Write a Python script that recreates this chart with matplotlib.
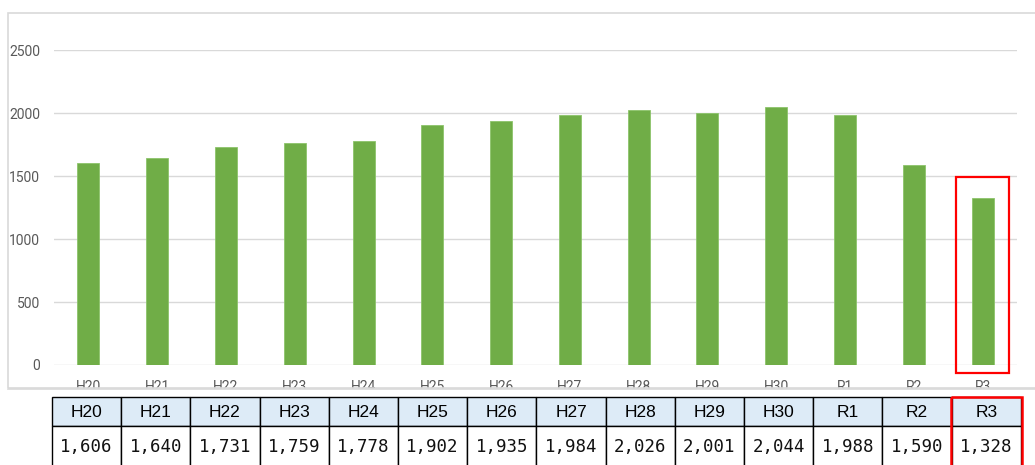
import matplotlib
matplotlib.use("Agg")
import matplotlib.pyplot as plt
from matplotlib.patches import Rectangle

categories = ["H20", "H21", "H22", "H23", "H24", "H25", "H26", "H27", "H28", "H29", "H30", "R1", "R2", "R3"]
values = [1606, 1640, 1731, 1759, 1778, 1902, 1935, 1984, 2026, 2001, 2044, 1988, 1590, 1328]
yticks = [0, 500, 1000, 1500, 2000, 2500]

W, H = 1035, 465
fig = plt.figure(figsize=(W / 100, H / 100), dpi=100)
fig.patch.set_facecolor("white")

# chart frame
fig.patches.append(Rectangle((8 / W, 1 - 388 / H), 1.2, (388 - 13) / H, transform=fig.transFigure,
                             fill=False, edgecolor="#D9D9D9", linewidth=1.2, zorder=0))

ax = fig.add_axes([54 / W, 1 - 365 / H, (1017 - 54) / W, (365 - 50) / H])
x = list(range(len(categories)))
ax.bar(x, values, width=0.32, color="#70AD47", edgecolor="#8CC46A", linewidth=0.6, zorder=3)
ax.set_xlim(-0.5, len(categories) - 0.5)
ax.set_ylim(0, 2500)
ax.set_yticks(yticks)
ax.set_yticklabels([str(v) for v in yticks], fontsize=10, color="#595959", family="Roboto")
ax.set_xticks(x)
ax.set_xticklabels(categories, fontsize=10, color="#595959", family="Roboto")
ax.tick_params(axis="y", length=0, pad=10)
ax.tick_params(axis="x", length=0, pad=10.5)
for s in ax.spines.values():
    s.set_visible(False)
ax.grid(axis="y", color="#D9D9D9", linewidth=1, zorder=0)
ax.set_axisbelow(True)

# highlight last bar
last = len(categories) - 1
ax.add_patch(Rectangle((last - 0.38, -60), 0.76, 1555, fill=False, edgecolor="#FF0000",
                       linewidth=1.6, clip_on=False, zorder=5))

# table overlay in pixel coordinates
tab = fig.add_axes([0, 0, 1, 1], zorder=10)
tab.set_xlim(0, W)
tab.set_ylim(H, 0)
tab.axis("off")
# white strip clipping the x tick labels below the frame
tab.add_patch(Rectangle((0, 389), W, 8, facecolor="white", edgecolor="none"))
tab.plot([8, W], [388.5, 388.5], color="#D9D9D9", linewidth=1.2)

x0, cw = 52, 69.2
top, mid, bot = 397, 425.5, 470
for i, (c, v) in enumerate(zip(categories, values)):
    left = x0 + i * cw
    tab.add_patch(Rectangle((left, top), cw, mid - top, facecolor="#DDEBF7", edgecolor="black", linewidth=1))
    tab.add_patch(Rectangle((left, mid), cw, bot - mid, facecolor="white", edgecolor="black", linewidth=1))
    tab.text(left + cw / 2, (top + mid) / 2 + 1, c, ha="center", va="center", fontsize=12.5,
             family="Liberation Sans", color="black")
    tab.text(left + cw / 2, 447, f"{v:,}", ha="center", va="center", fontsize=12.5,
             family="DejaVu Sans Mono", color="#111111")
lx = x0 + last * cw
tab.add_patch(Rectangle((lx - 0.5, top), cw + 1.5, bot - top, fill=False, edgecolor="#FF0000", linewidth=1.8))

fig.savefig("out.png", dpi=100)
